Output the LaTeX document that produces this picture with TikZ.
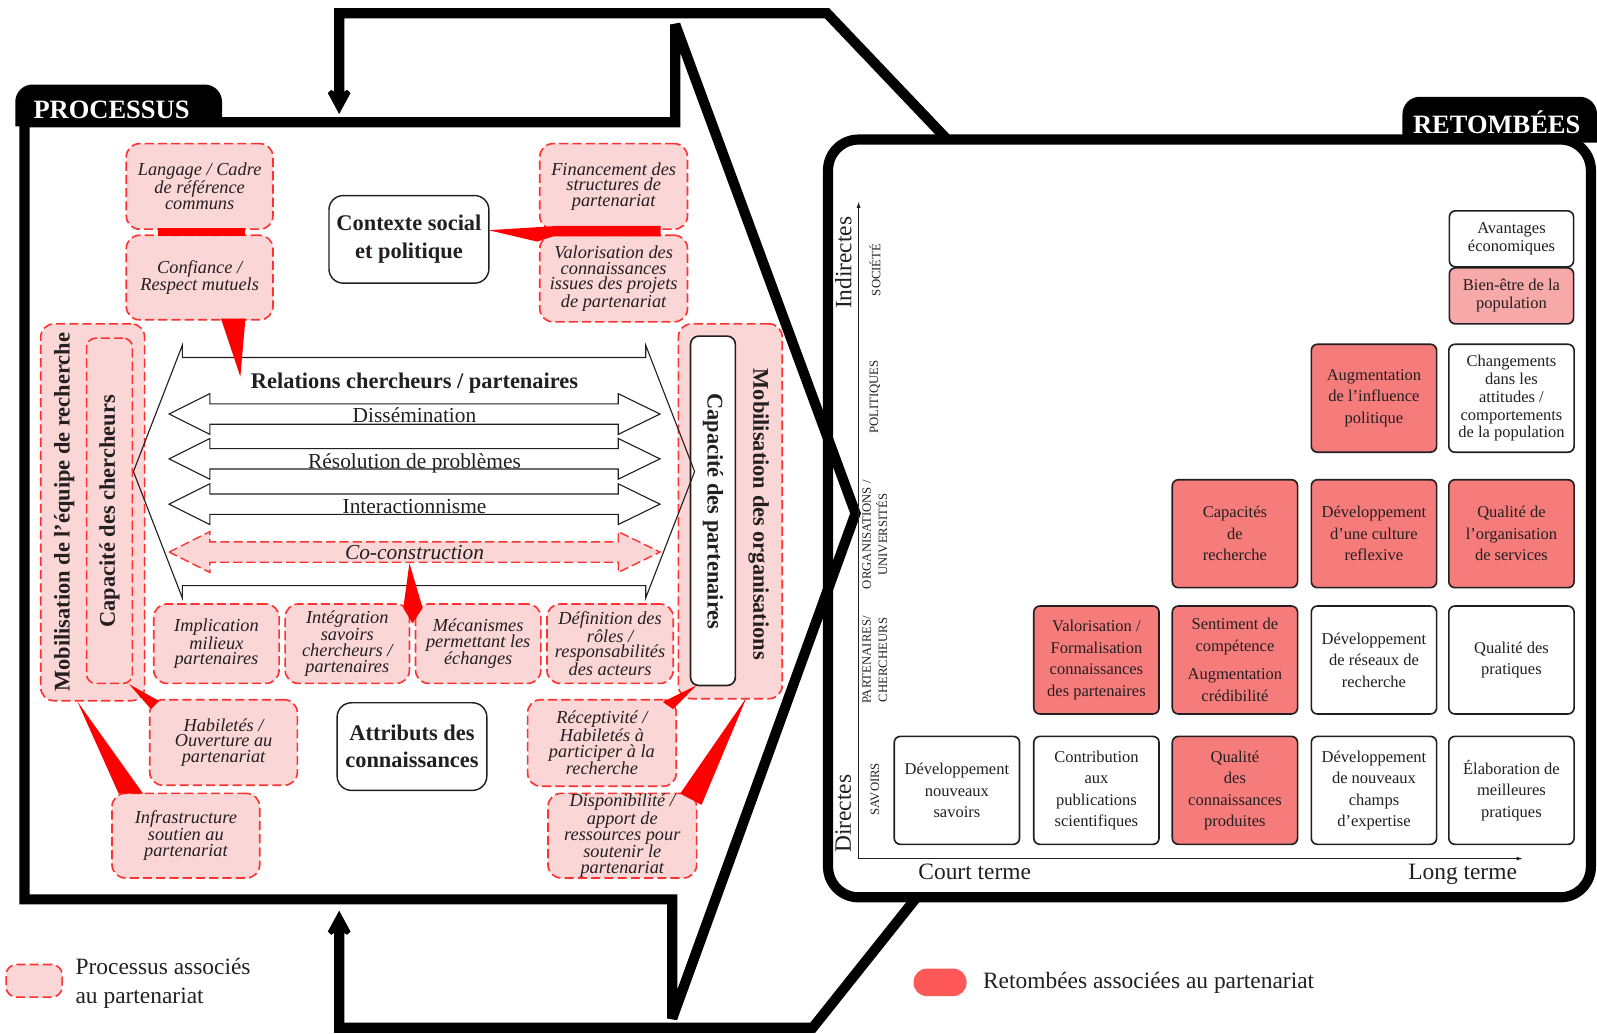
\documentclass[tikz,border=0pt]{standalone}
\usepackage{fontspec}
\setmainfont{Liberation Serif}
\usetikzlibrary{arrows.meta,calc}

\definecolor{ink}{RGB}{35,31,32}
\definecolor{procfill}{RGB}{250,214,214}
\definecolor{procline}{RGB}{255,50,50}
\definecolor{wedgered}{RGB}{255,0,0}
\definecolor{outred}{RGB}{246,124,124}
\definecolor{outpink}{RGB}{247,168,168}
\definecolor{legred}{RGB}{255,88,88}

\newcommand\fProc{\fontsize{18}{15.5}\selectfont\itshape}
\newcommand\fBold{\fontsize{22}{27}\selectfont\bfseries}
\newcommand\fOut{\fontsize{16.2}{21}\selectfont}
\newcommand\fOutT{\fontsize{16.2}{17.5}\selectfont}
\newcommand\fArr{\fontsize{21}{24}\selectfont}
\newcommand\fBig{\fontsize{23}{28}\selectfont}
\newcommand\fCat{\fontsize{12.5}{16}\selectfont}
\newcommand\fTab{\fontsize{26}{28}\selectfont\bfseries}

\tikzset{
  heavy/.style={line width=10pt, line join=miter, miter limit=3},
  sz/.style 2 args={minimum width=#1pt, minimum height=#2pt},
  procbox/.style={draw=procline, fill=procfill, line width=1.6pt, dash pattern=on 9pt off 4pt,
    rounded corners=13pt, font=\fProc, text=ink, align=center, inner sep=0pt},
  keybox/.style={draw=ink, fill=white, line width=1.4pt, rounded corners=14pt,
    font=\fBold, text=ink, align=center, inner sep=0pt},
  outbox/.style={draw=ink, line width=1.6pt, rounded corners=6pt, font=\fOut, text=ink,
    align=center, inner sep=0pt, minimum width=123pt, minimum height=106pt},
  hot/.style={fill=outred},
  cold/.style={fill=white},
  wedge/.style={fill=wedgered},
  flow/.style={draw=ink, fill=white, line width=1.1pt},
  coflow/.style={draw=procline, fill=procfill, line width=1.4pt, dash pattern=on 9pt off 4pt},
  label/.style={text=ink, inner sep=0pt},
  vlabel/.style={font=\fBold, text=ink, inner sep=0pt},
  cat/.style={font=\fCat, text=ink, rotate=90, align=center, inner sep=0pt},
  tabtext/.style={font=\fTab, text=white, anchor=base, inner sep=0pt},
  feedback/.style={heavy, -{Stealth[length=28pt, width=30pt, inset=9pt]}},
  dblarrow/.pic={\path[pic actions] (-241,0) -- (-201,-20) -- (-201,-10) -- (200,-10) -- (200,-20)
    -- (241,0) -- (200,20) -- (200,10) -- (-201,10) -- (-201,20) -- cycle;},
}

\begin{document}
\begin{tikzpicture}[x=1pt,y=-1pt]
\useasboundingbox (0,0) rectangle (1568,1015);

% ---------- feedback loops from the outcomes back to the process ----------
\coordinate (fbTopStart) at (930,137);
\coordinate (fbTopEnd) at (333,112);
\coordinate (fbBotStart) at (900,881);
\coordinate (fbBotEnd) at (333,894);
\draw[feedback] (fbTopStart) -- (812,13) -- (333,13) -- (fbTopEnd);
\draw[feedback] (fbBotStart) -- (798,1009) -- (333,1009) -- (fbBotEnd);

% ---------- process frame shaped as a big arrow ----------
\draw[heavy] (24,120) -- (663,120) -- (663,24) -- (840,504) -- (660,1000) -- (660,883)
  -- (24,883) -- cycle;
\fill[black] (15,124) -- (15,100) arc[start angle=180, end angle=270, radius=17]
  -- (201,83) arc[start angle=270, end angle=360, radius=17] -- (218,124) -- cycle;
\node[tabtext] (proctab) at (109.5,116) {PROCESSUS};

% ---------- outcomes frame ----------
\draw[heavy, rounded corners=30pt] (813,137) rectangle (1562,881);
\fill[black] (1377,140) -- (1377,112) arc[start angle=180, end angle=270, radius=17]
  -- (1551,95) arc[start angle=270, end angle=360, radius=17] -- (1568,140) -- cycle;
\node[tabtext] (outtab) at (1469.5,131) {RETOMBÉES};

% ---------- side columns ----------
\node[procbox, sz={102}{370}] (mobeq) at (91,503) {};
\node[procbox, sz={45}{339}, rounded corners=9pt] (capch) at (107.5,501.5) {};
\node[vlabel, rotate=90] (mobeqT) at (63,503) {Mobilisation de l’équipe de recherche};
\node[vlabel, rotate=90] (capchT) at (107.5,502) {Capacité des chercheurs};

\node[procbox, sz={102}{368}] (mobor) at (717,502) {};
\node[draw=ink, fill=white, line width=1.6pt, rounded corners=8pt, sz={44}{343}] (cappa) at (700,501.5) {};
\node[vlabel, rotate=-90] (moborT) at (745,505) {Mobilisation des organisations};
\node[vlabel, rotate=-90] (cappaT) at (700,502) {Capacité des partenaires};

% ---------- researcher / partner relations ----------
\draw[draw=ink, line width=1.1pt] (131,463) -- (179,339) -- (179,351) -- (634,351) -- (634,339)
  -- (682,463) -- (634,587) -- (634,575) -- (179,575) -- (179,587) -- cycle;
\pic[flow] (disA) at (407,406.5) {dblarrow};
\pic[flow] (resA) at (407,450.5) {dblarrow};
\pic[flow] (intA) at (407,495) {dblarrow};
\pic[coflow] (cocA) at (407,542) {dblarrow};
\coordinate (cocC) at (407,542);

\node[font=\fBold, label, anchor=base] (reltxt) at (407,381) {Relations chercheurs / partenaires};
\node[font=\fArr, label, anchor=base] (dis) at (407,415) {Dissémination};
\node[font=\fArr, label, anchor=base] (res) at (407,459.5) {Résolution de problèmes};
\node[font=\fArr, label, anchor=base] (inter) at (407,504) {Interactionnisme};
\node[font=\fArr\itshape, label, anchor=base] (coc) at (407,549) {Co-construction};

% ---------- process boxes ----------
\node[procbox, sz={144}{84}] (lang) at (196,183) {Langage / Cadre\\de référence\\communs};
\node[procbox, sz={144}{83}] (conf) at (196,272.5) {Confiance /\\Respect mutuels};
\node[procbox, sz={145}{84}] (fin) at (602.5,183) {Financement des\\structures de\\partenariat};
\node[procbox, sz={145}{85}] (valo) at (602.5,273.5) {Valorisation des\\connaissances\\issues des projets\\de partenariat};
\node[keybox, sz={157}{86}] (ctx) at (401.5,235) {Contexte social\\et politique};

\node[procbox, sz={123}{78}] (impl) at (212.5,632) {Implication\\milieux\\partenaires};
\node[procbox, sz={122}{78}] (integ) at (341,632) {Intégration\\savoirs\\chercheurs /\\partenaires};
\node[procbox, sz={123}{78}] (meca) at (469.5,632) {Mécanismes\\permettant les\\échanges};
\node[procbox, sz={124}{78}] (defi) at (599,632) {Définition des\\rôles /\\responsabilités\\des acteurs};

\node[procbox, sz={145}{84}] (habi) at (219.5,729) {Habiletés /\\Ouverture au\\partenariat};
\node[procbox, sz={145}{83}] (infra) at (182.5,820.5) {Infrastructure\\soutien au\\partenariat};
\node[keybox, sz={147}{86}] (attr) at (404.5,733) {Attributs des\\connaissances};
\node[procbox, sz={146}{85}] (recep) at (591,729.5) {Réceptivité /\\Habiletés à\\participer à la\\recherche};
\node[procbox, sz={146}{83}] (dispo) at (611,820.5) {Disponibilité /\\apport de\\ressources pour\\soutenir le\\partenariat};

% ---------- red links between process elements ----------
\fill[wedge] ($(lang.south)+(-41,-2)$) rectangle ($(conf.north)+(45,2)$);
\fill[wedge] ($(ctx.east)+(-1,-9)$) -- ($(fin.south)+(-55,-4)$) -- ($(fin.south)+(46,-4)$)
  -- ($(valo.north)+(46,2)$) -- ($(valo.north)+(-60,2)$) -- ($(valo.north)+(-75,7)$) -- cycle;
\fill[wedge] ($(conf.south)+(21,-2)$) -- ($(conf.south)+(45,-2)$) -- ($(conf.south)+(40,55)$) -- cycle;
\fill[wedge] ($(cocC)+(-5,11)$) -- ($(cocC)+(8,55)$) -- ($(cocC)+(-2,70)$) -- ($(cocC)+(-11,55)$) -- cycle;
\fill[wedge] ($(capch.south east)+(-4,0)$) -- ($(habi.north west)+(10,2)$) -- ($(habi.north west)+(2,10)$) -- cycle;
\fill[wedge] ($(mobeq.south)+(-15,0)$) -- ($(infra.north)+(-66,1)$) -- ($(infra.north)+(-42,1)$) -- cycle;
\fill[wedge] ($(cappa.south)+(-16,-1)$) -- ($(recep.north east)+(-4,10)$) -- ($(recep.north east)+(-14,3)$) -- cycle;
\fill[wedge] ($(mobor.south)+(16,-2)$) -- ($(dispo.north east)+(-17,1)$) -- ($(dispo.north east)+(4,12)$) -- cycle;

% ---------- legend ----------
\node[procbox, sz={55}{32}, rounded corners=10pt] (legproc) at (33.5,963) {};
\node[font=\fBig, label, anchor=base west, align=left] (legprocT) at (74,985) {Processus associés\\au partenariat};
\node[fill=legred, rounded corners=13pt, sz={52}{27}, inner sep=0pt] (legout) at (923,964.5) {};
\node[font=\fBig, label, anchor=base west] (legoutT) at (965,971) {Retombées associées au partenariat};

% ---------- outcome axes ----------
\coordinate (origin) at (843,843);
\coordinate (yend) at (843,198);
\coordinate (xend) at (1495,843);
\draw[ink, line width=0.9pt, -{Latex[length=6pt, width=4pt]}] (origin) -- (yend);
\draw[ink, line width=0.9pt, -{Latex[length=6pt, width=4pt]}] (origin) -- (xend);
\node[font=\fBig, label, rotate=90] (indir) at (828,258) {Indirectes};
\node[font=\fBig, label, rotate=90] (direc) at (828,799) {Directes};
\node[font=\fBig, label, anchor=base] (court) at (957,864) {Court terme};
\node[font=\fBig, label, anchor=base] (long) at (1436,864) {Long terme};
\node[cat] (catSoc) at (859,265) {SOCIÉTÉ};
\node[cat] (catPol) at (859,390) {POLITIQUES};
\node[cat] (catOrg) at (859,525) {ORGANISATIONS /\\UNIVERSITÉS};
\node[cat] (catPart) at (859,648) {PARTENAIRES/\\CHERCHEURS};
\node[cat] (catSav) at (859,775) {SAVOIRS};

% ---------- outcome boxes ----------
\node[outbox, cold] (s1) at (939.5,776) {Développement\\nouveaux\\savoirs};
\node[outbox, cold] (s2) at (1076.5,776) {Contribution\\aux\\publications\\scientifiques};
\node[outbox, hot]  (s3) at (1212.5,776) {Qualité\\des\\connaissances\\produites};
\node[outbox, cold] (s4) at (1349,776) {Développement\\de nouveaux\\champs\\d’expertise};
\node[outbox, cold] (s5) at (1484,776) {Élaboration de\\meilleures\\pratiques};

\node[outbox, hot]  (p2) at (1076.5,648) {Valorisation /\\Formalisation\\connaissances\\des partenaires};
\node[outbox, hot]  (p3) at (1212.5,648) {Sentiment de\\compétence\\[7pt]Augmentation\\crédibilité};
\node[outbox, cold] (p4) at (1349,648) {Développement\\de réseaux de\\recherche};
\node[outbox, cold] (p5) at (1484,648) {Qualité des\\pratiques};

\node[outbox, hot] (o3) at (1212.5,524) {Capacités\\de\\recherche};
\node[outbox, hot] (o4) at (1349,524) {Développement\\d’une culture\\reflexive};
\node[outbox, hot] (o5) at (1484,524) {Qualité de\\l’organisation\\de services};

\node[outbox, hot] (l4) at (1349,391) {Augmentation\\de l’influence\\politique};
\node[outbox, cold, font=\fOutT] (l5) at (1484,391) {Changements\\dans les\\attitudes /\\comportements\\de la population};

\node[outbox, cold, font=\fOutT, sz={122}{55}] (a5) at (1484,234.5) {Avantages\\économiques};
\node[outbox, fill=outpink, font=\fOutT, sz={122}{55}] (b5) at (1484,290.5) {Bien-être de la\\population};

\end{tikzpicture}
\end{document}
